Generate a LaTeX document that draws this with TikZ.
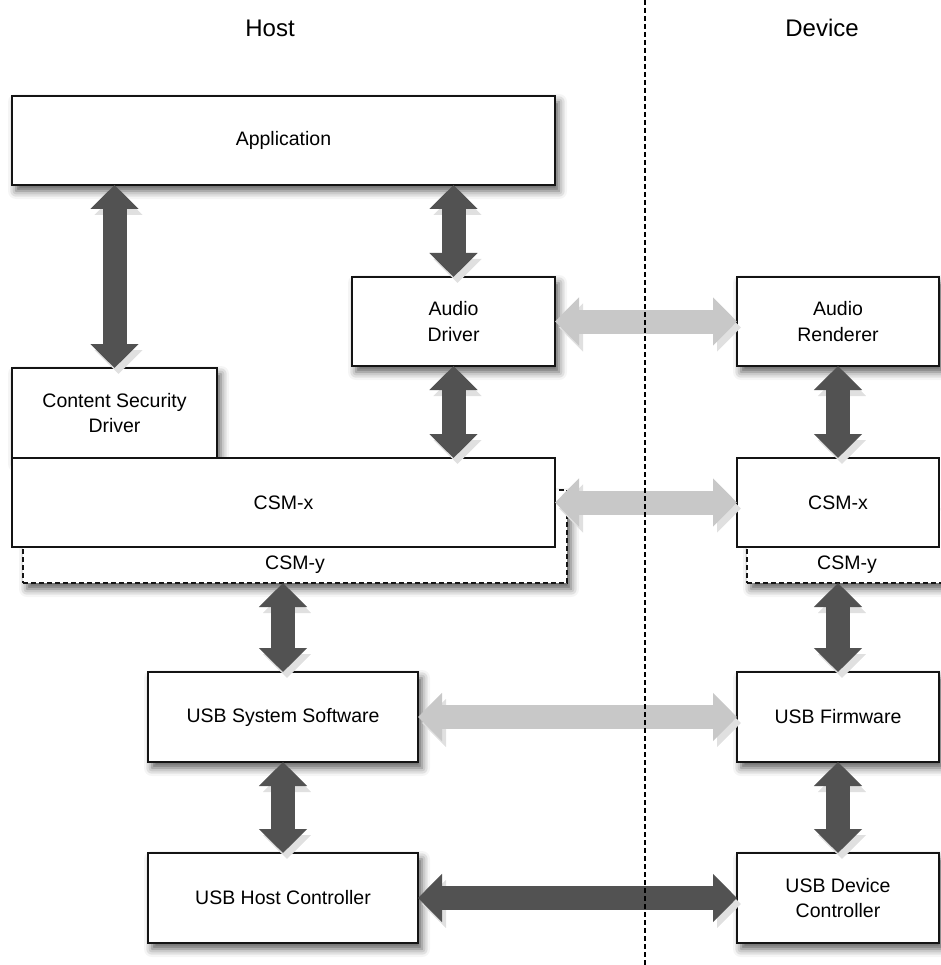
\documentclass[tikz,border=0pt]{standalone}
\usepackage{fontspec}
\setmainfont{Liberation Sans}
\usetikzlibrary{arrows.meta,shadows.blur}
\usepackage{xcolor}
\definecolor{arrdark}{RGB}{82,82,82}
\definecolor{arrlight}{RGB}{200,200,200}
\definecolor{boxline}{RGB}{20,20,20}

\begin{document}
\begin{tikzpicture}[x=1pt,y=-1pt,font=\fontsize{19.5}{25.5}\selectfont,
  blk/.style={draw=boxline, line width=2.6pt, fill=white, anchor=north west, inner sep=0pt, outer sep=0pt, align=center, minimum width=#1},
  shd/.style={blur shadow={shadow xshift=4pt, shadow yshift=-6pt, shadow blur radius=8pt, shadow opacity=65}},
  csmbox/.style={blk=#1, dashed, dash pattern=on 5pt off 3pt, line width=2pt, shd},
  lnk/.style={line width=24pt, {Triangle[width=47pt,length=24pt]}-{Triangle[width=47pt,length=24pt]},
    preaction={draw=black!12, transform canvas={shift={(4pt,-6pt)}}}}]
\useasboundingbox (0,0) rectangle (940,965);

\node[font=\fontsize{24}{28}\selectfont] (host) at (270,28) {Host};
\node[font=\fontsize{24}{28}\selectfont] (dev) at (822,28) {Device};

% host side
\node[blk=543pt, minimum height=89pt, shd] (app) at (12,96) {Application};
\node[blk=203pt, minimum height=89pt, shd] (adrv) at (352,277) {Audio\\Driver};
\node[blk=205pt, minimum height=90pt, shd] (csd) at (12,368) {Content Security\\Driver};
\node[csmbox=544pt, minimum height=93pt] (csmy) at (23,490) {};
\node (csmylbl) at ([yshift=18pt]csmy.south) {CSM-y};
\node[blk=543pt, minimum height=89pt] (csmx) at (12,458) {CSM-x};
\node[blk=270pt, minimum height=90pt, shd] (usbsw) at (148,672) {USB System Software};
\node[blk=270pt, minimum height=90pt, shd] (hostc) at (148,853) {USB Host Controller};

% device side
\node[blk=202pt, minimum height=89pt, shd] (arend) at (737,277) {Audio\\Renderer};
\node[csmbox=220pt, minimum height=73pt] (csmyd) at (747,510) {};
\node (csmydlbl) at ([xshift=-10pt,yshift=18pt]csmyd.south) {CSM-y};
\node[blk=202pt, minimum height=89pt] (csmxd) at (737,458) {CSM-x};
\node[blk=202pt, minimum height=90pt, shd] (usbfw) at (737,672) {USB Firmware};
\node[blk=202pt, minimum height=90pt, shd] (devc) at (737,853) {USB Device\\Controller};

% vertical links
\draw[lnk, arrdark] (app.south -| csd.north) -- (csd.north);
\draw[lnk, arrdark] (app.south -| adrv.north) -- (adrv.north);
\draw[lnk, arrdark] (adrv.south) -- (adrv.south |- csmx.north);
\draw[lnk, arrdark] (usbsw.north |- csmy.south) -- (usbsw.north);
\draw[lnk, arrdark] (usbsw.south) -- (hostc.north);
\draw[lnk, arrdark] (arend.south) -- (csmxd.north);
\draw[lnk, arrdark] (usbfw.north |- csmyd.south) -- (usbfw.north);
\draw[lnk, arrdark] (usbfw.south) -- (devc.north);

% links across
\draw[lnk, arrlight] (adrv.east) -- (arend.west);
\draw[lnk, arrlight] (csmx.east) -- (csmxd.west);
\draw[lnk, arrlight] (usbsw.east) -- (usbfw.west);
\draw[lnk, arrdark] (hostc.east) -- (devc.west);

\draw[line width=1.2pt, dash pattern=on 5pt off 3pt] (645,0) -- (645,965);
\end{tikzpicture}
\end{document}
